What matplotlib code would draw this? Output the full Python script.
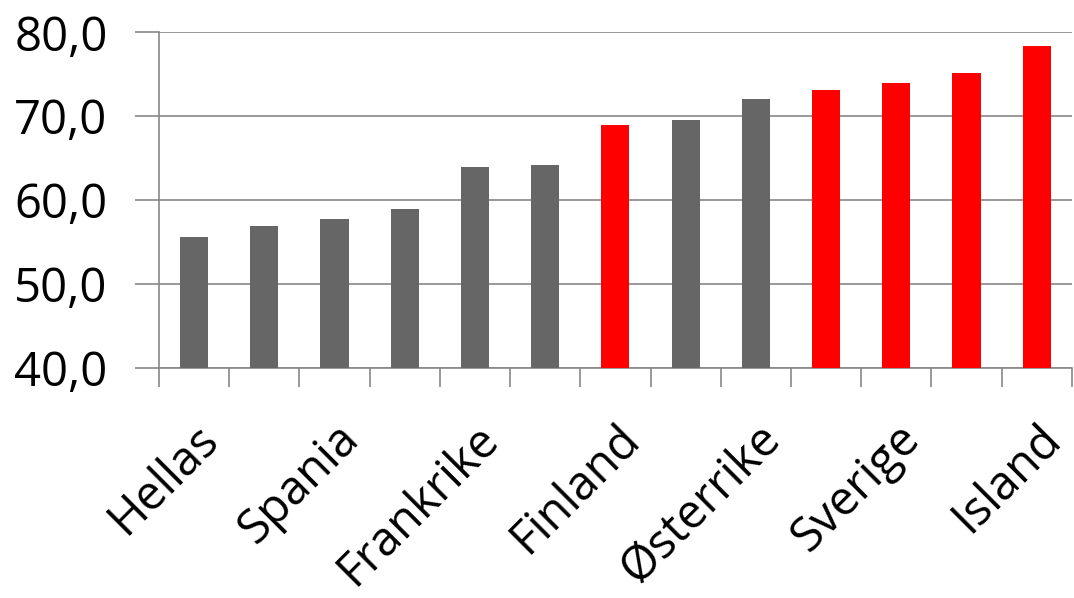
import numpy as np
import matplotlib.pyplot as plt

# Categories (only every other name is printed on the axis)
countries = ['Hellas', 'Italia', 'Spania', 'Polen', 'Frankrike', 'EU', 'Finland',
             'Tyskland', 'Østerrike', 'Danmark', 'Sverige', 'Norge', 'Island']
values = [55.6, 56.9, 57.7, 58.9, 63.9, 64.2, 68.9, 69.5, 72.1, 73.1, 74.0, 75.2, 78.4]
nordic = [False, False, False, False, False, False, True, False, False, True, True, True, True]

GREY = '#666666'
RED = '#ff0000'
AXIS = '#888888'

plt.rcParams['font.family'] = ['Open Sans', 'DejaVu Sans']

fig = plt.figure(figsize=(10.74, 5.98), dpi=100)
ax = fig.add_axes([0.148, 0.385, 0.850, 0.561])

x = np.arange(len(countries))
colors = [RED if n else GREY for n in nordic]
ax.bar(x, values, width=0.4, color=colors, zorder=3)

ax.set_ylim(40, 80)
ax.set_xlim(-0.5, len(countries) - 0.5)
ax.set_yticks([40, 50, 60, 70, 80])
ax.set_yticklabels([f'{v:.1f}'.replace('.', ',') for v in [40, 50, 60, 70, 80]], fontsize=34)
ax.yaxis.grid(True, color=AXIS, linewidth=1.2, zorder=0)
ax.tick_params(axis='y', length=17, color=AXIS, width=1.2, pad=20)

# category boundaries as tick marks, names on every other category
ax.set_xticks(np.arange(-0.5, len(countries), 1.0))
ax.set_xticklabels([])
ax.tick_params(axis='x', which='major', length=14, color=AXIS, width=1.2)
ax.set_xticks(x[::2], minor=True)
ax.set_xticklabels(countries[::2], minor=True, rotation=45, ha='right',
                   rotation_mode='anchor', fontsize=34)
ax.tick_params(axis='x', which='minor', length=0, pad=34)

for side in ['top', 'right']:
    ax.spines[side].set_visible(False)
ax.spines['left'].set_color(AXIS)
ax.spines['left'].set_linewidth(1.2)
ax.spines['bottom'].set_color(AXIS)
ax.spines['bottom'].set_linewidth(1.2)

fig.savefig('out.png', dpi=100)
